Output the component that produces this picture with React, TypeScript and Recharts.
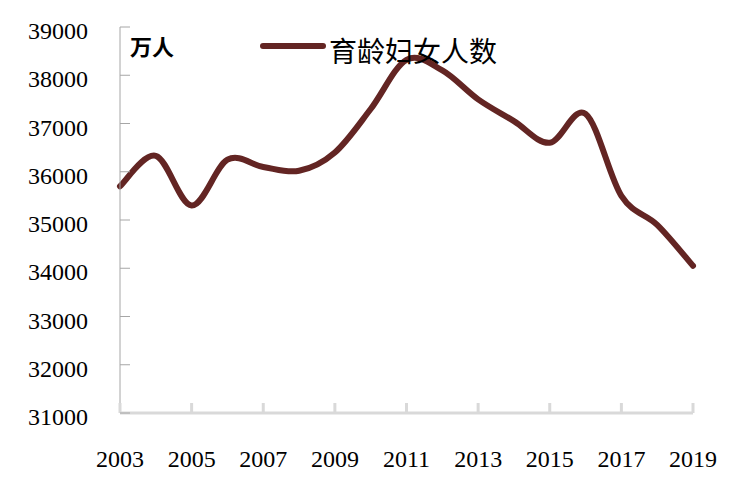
import { LineChart, Line, XAxis, YAxis } from 'recharts';

document.body.style.margin = '0';

const years = [2003, 2004, 2005, 2006, 2007, 2008, 2009, 2010, 2011, 2012, 2013, 2014, 2015, 2016, 2017, 2018, 2019];
const women = [35700, 36330, 35300, 36250, 36100, 36020, 36400, 37300, 38320, 38100, 37500, 37050, 36600, 37200, 35500, 34900, 34050];
const xTicks = [2003, 2005, 2007, 2009, 2011, 2013, 2015, 2017, 2019];
const yTicks = [31000, 32000, 33000, 34000, 35000, 36000, 37000, 38000, 39000];
const seriesName = '育龄妇女人数';
const unitLabel = '万人';

const data = years.map((year, i) => ({ year, women: women[i] }));

const W = 738;
const H = 481;
const AXIS_X = 120;
const AXIS_Y = 413;
const LINE_COLOR = '#632523';
const NUM_FONT = '"Liberation Serif", "DejaVu Serif", serif';
const CJK_FONT = '"Noto Sans CJK SC", sans-serif';

// Excel-style smoothing (Catmull-Rom as cubic bezier), passed to Line as a curve factory
function smoothCurve(context: any) {
  let pts: number[][] = [];
  return {
    areaStart() {},
    areaEnd() {},
    lineStart() {
      pts = [];
    },
    lineEnd() {
      if (!pts.length) return;
      context.moveTo(pts[0][0], pts[0][1]);
      for (let i = 0; i < pts.length - 1; i++) {
        const p0 = pts[i - 1] || pts[i];
        const p1 = pts[i];
        const p2 = pts[i + 1];
        const p3 = pts[i + 2] || p2;
        context.bezierCurveTo(
          p1[0] + (p2[0] - p0[0]) / 6,
          p1[1] + (p2[1] - p0[1]) / 6,
          p2[0] - (p3[0] - p1[0]) / 6,
          p2[1] - (p3[1] - p1[1]) / 6,
          p2[0],
          p2[1],
        );
      }
    },
    point(x: number, y: number) {
      pts.push([+x, +y]);
    },
  };
}

function YTick(props: any) {
  const { y, payload } = props;
  return (
    <g>
      <line x1={AXIS_X} x2={AXIS_X + 10} y1={y} y2={y} stroke="#a6a6a6" strokeWidth={1} />
      <text x={88} y={y + 12} textAnchor="end" fontSize={24} fontFamily={NUM_FONT} fill="#000">
        {payload.value}
      </text>
    </g>
  );
}

function XTick(props: any) {
  const { x, payload } = props;
  return (
    <g>
      <line x1={x} x2={x} y1={AXIS_Y} y2={AXIS_Y - 10} stroke="#d9d9d9" strokeWidth={3} />
      <text x={x} y={467} textAnchor="middle" fontSize={24} fontFamily={NUM_FONT} fill="#000">
        {payload.value}
      </text>
    </g>
  );
}

export default function App() {
  return (
    <div style={{ position: 'relative', width: W, height: H, background: '#fff' }}>
      <LineChart width={W} height={H} data={data} margin={{ top: 27, right: 45, bottom: 0, left: 0 }}>
        <XAxis
          dataKey="year"
          type="number"
          domain={[2003, 2019]}
          ticks={xTicks}
          height={68}
          axisLine={{ stroke: '#d9d9d9', strokeWidth: 3 }}
          tickLine={false}
          tick={<XTick />}
          interval={0}
        />
        <YAxis
          domain={[31000, 39000]}
          ticks={yTicks}
          width={120}
          axisLine={{ stroke: '#a6a6a6', strokeWidth: 1 }}
          tickLine={false}
          tick={<YTick />}
          interval={0}
        />
        <Line
          dataKey="women"
          name={seriesName}
          type={smoothCurve as any}
          stroke={LINE_COLOR}
          strokeWidth={6}
          strokeLinecap="round"
          dot={false}
          activeDot={false}
          isAnimationActive={false}
        />
      </LineChart>
      <div
        style={{
          position: 'absolute',
          left: 130,
          top: 30,
          fontSize: 22,
          fontWeight: 'bold',
          fontFamily: CJK_FONT,
          lineHeight: '30px',
          color: '#000',
        }}
      >
        {unitLabel}
      </div>
      <div style={{ position: 'absolute', left: 260, top: 30, display: 'flex', alignItems: 'center' }}>
        <svg width={66} height={12} style={{ marginTop: -8 }}>
          <line x1={3} x2={63} y1={6} y2={6} stroke={LINE_COLOR} strokeWidth={6} strokeLinecap="round" />
        </svg>
        <span style={{ fontSize: 28, fontFamily: CJK_FONT, lineHeight: '40px', color: '#000', marginLeft: 3 }}>
          {seriesName}
        </span>
      </div>
    </div>
  );
}
